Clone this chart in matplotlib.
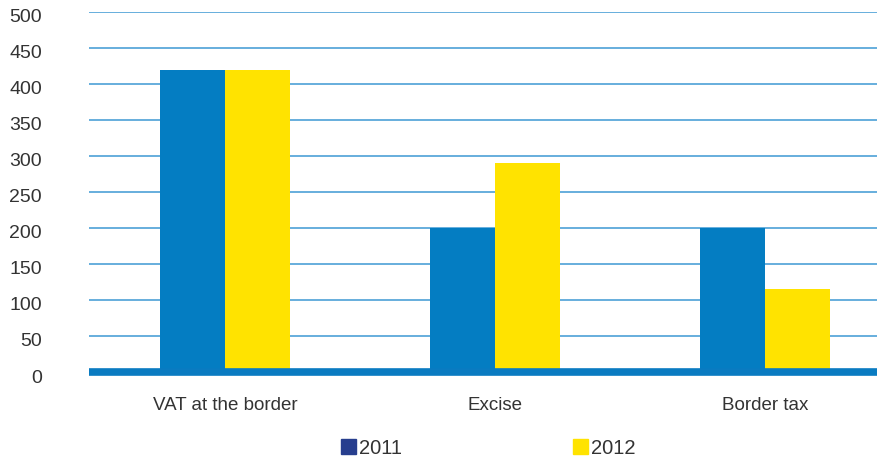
import matplotlib.pyplot as plt
import matplotlib.transforms as mtransforms
import numpy as np
from matplotlib.patches import Patch

plt.rcParams['font.family'] = ['Liberation Sans', 'DejaVu Sans']

categories = ["VAT at the border", "Excise", "Border tax"]
series_names = ["2011", "2012"]
values_2011 = [420, 200, 200]
values_2012 = [420, 290, 115]
yticks = [0, 50, 100, 150, 200, 250, 300, 350, 400, 450, 500]

blue = '#047dc2'
yellow = '#ffe300'
navy = '#273e8e'
text_col = '#333333'

fig = plt.figure(figsize=(8.79, 4.61), dpi=100)
ax = fig.add_axes([89 / 879, 1 - 372 / 461, (877 - 89) / 879, 360 / 461])

x = np.arange(len(categories))
w = 0.24
ax.bar(x - w / 2, values_2011, width=w, color=blue, zorder=3)
ax.bar(x + w / 2, values_2012, width=w, color=yellow, zorder=3)

ax.set_xlim(-0.504, 2.415)
ax.set_ylim(0, 500)

# horizontal grid lines
for v in yticks[1:]:
    ax.axhline(v, color='#5aa8da', lw=1.3, zorder=1)
ax.axhline(0, color='#0a7bc1', lw=5.5, zorder=4, clip_on=False, solid_capstyle='butt')

for s in ax.spines.values():
    s.set_visible(False)

ax.set_yticks(yticks)
ax.set_yticklabels([str(v) for v in yticks])
ax.tick_params(axis='y', length=0, pad=34, labelsize=14, labelcolor=text_col)
# y labels sit a little below their grid lines
shift = mtransforms.ScaledTranslation(0, -4 / 100, fig.dpi_scale_trans)
for lbl in ax.get_yticklabels():
    lbl.set_transform(lbl.get_transform() + shift)

ax.set_xticks(x)
ax.set_xticklabels(categories)
ax.tick_params(axis='x', length=0, pad=18, labelsize=13.5, labelcolor=text_col)

handles = [Patch(color=navy), Patch(color=yellow)]
fig.legend(handles, series_names, loc='center', bbox_to_anchor=(488 / 879, 1 - 448 / 461),
           ncol=2, frameon=False, fontsize=14.5, labelcolor=text_col,
           handlelength=0.75, handleheight=0.75, handletextpad=0.15, columnspacing=8.5)

fig.savefig('out.png', dpi=100)
